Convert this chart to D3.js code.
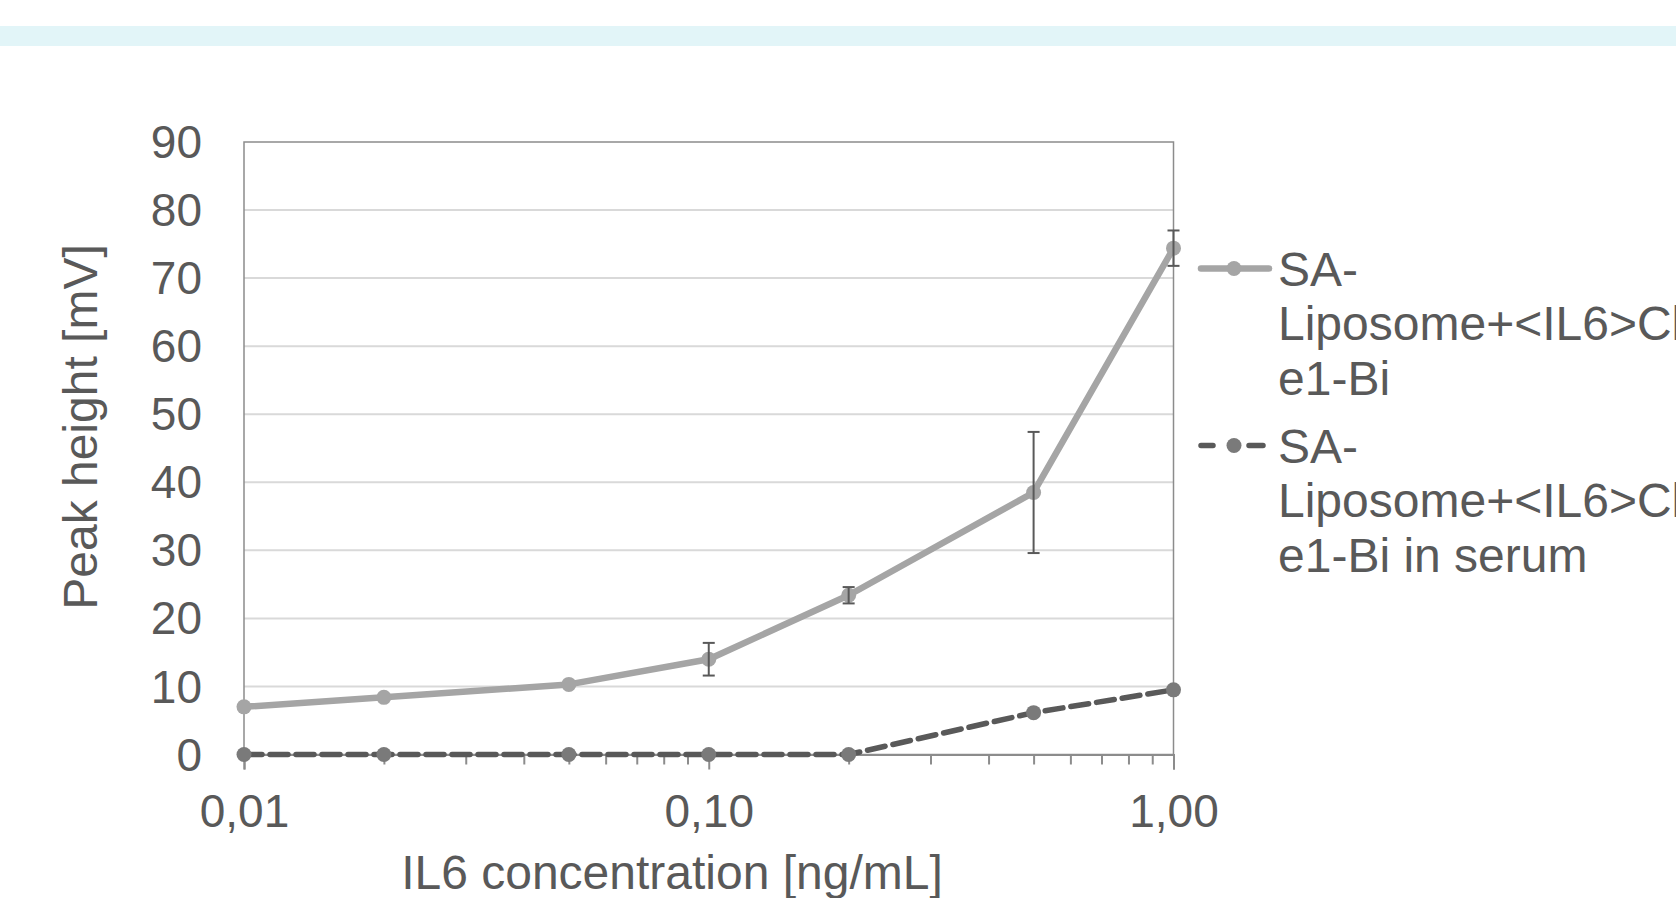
<!DOCTYPE html>
<html>
<head>
<meta charset="utf-8">
<script src="https://cdn.jsdelivr.net/npm/d3@7"></script>
<style>
  html, body { margin: 0; padding: 0; background: #fff; overflow: hidden; }
  svg { display: block; font-family: "Liberation Sans", Arial, sans-serif; }
</style>
</head>
<body>
<svg id="chart" width="1676" height="898"></svg>
<script>
// concentrations in ng/mL (log axis)
const concentrations = [0.01, 0.02, 0.05, 0.1, 0.2, 0.5, 1.0];
// peak heights [mV]
const liposome = [7.0, 8.4, 10.3, 14.0, 23.4, 38.5, 74.4];
const liposomeErr = [0, 0, 0, 2.4, 1.2, 8.9, 2.6];
const liposomeSerum = [0, 0, 0, 0, 0, 6.15, 9.5];

const yTicks = [0, 10, 20, 30, 40, 50, 60, 70, 80, 90];
const xMajorTicks = [0.01, 0.1, 1];
const xMinorTicks = [0.02, 0.03, 0.04, 0.05, 0.06, 0.07, 0.08, 0.09,
                     0.2, 0.3, 0.4, 0.5, 0.6, 0.7, 0.8, 0.9];

const legendLabels = [
  ["SA-", "Liposome+<IL6>Clon", "e1-Bi"],
  ["SA-", "Liposome+<IL6>Clon", "e1-Bi in serum"]
];

const textColor = "#595959";
const svg = d3.select("#chart");

// light band at top of the slide
svg.append("rect")
  .attr("x", 0).attr("y", 26)
  .attr("width", 1676).attr("height", 20)
  .attr("fill", "#e2f5f8");

const plot = { left: 244, right: 1173.5, top: 142, bottom: 754.5 };

const x = d3.scaleLog()
  .domain([0.01, 1])
  .range([plot.left, plot.right]);

const y = d3.scaleLinear()
  .domain([0, 90])
  .range([plot.bottom, plot.top]);

const locale = d3.formatLocale({ decimal: ",", thousands: ".", grouping: [3], currency: ["", ""] });
const fmt = locale.format(".2f");

// gridlines
svg.append("g")
  .selectAll("line")
  .data(yTicks.slice(1, -1))
  .join("line")
  .attr("x1", plot.left).attr("x2", plot.right)
  .attr("y1", d => y(d)).attr("y2", d => y(d))
  .attr("stroke", "#d9d9d9")
  .attr("stroke-width", 2);

// plot area border
svg.append("rect")
  .attr("x", plot.left).attr("y", plot.top)
  .attr("width", plot.right - plot.left)
  .attr("height", plot.bottom - plot.top)
  .attr("fill", "none")
  .attr("stroke", "#8c8c8c")
  .attr("stroke-width", 1.5);

// y tick labels
svg.append("g")
  .selectAll("text")
  .data(yTicks)
  .join("text")
  .attr("x", 202)
  .attr("y", d => y(d))
  .attr("dy", "0.35em")
  .attr("text-anchor", "end")
  .attr("font-size", 46)
  .attr("fill", textColor)
  .text(d => d);

// x axis with major + minor ticks
const xAxis = svg.append("g")
  .attr("transform", `translate(0,${plot.bottom})`)
  .call(d3.axisBottom(x)
    .tickValues(xMajorTicks.concat(xMinorTicks))
    .tickSize(15)
    .tickFormat(d => xMajorTicks.includes(d) ? fmt(d) : ""));

xAxis.select(".domain").attr("stroke", "#8c8c8c").attr("stroke-width", 2);
xAxis.selectAll(".tick line")
  .attr("stroke", "#8c8c8c")
  .attr("stroke-width", 2)
  .attr("y2", d => xMajorTicks.includes(d) ? 15 : 10);
xAxis.selectAll(".tick text")
  .attr("y", 72.5)
  .attr("dy", null)
  .attr("font-size", 46)
  .attr("font-family", "Liberation Sans, Arial, sans-serif")
  .attr("fill", textColor);

// axis titles
svg.append("text")
  .attr("x", 672).attr("y", 889)
  .attr("text-anchor", "middle")
  .attr("font-size", 48)
  .attr("fill", textColor)
  .text("IL6 concentration [ng/mL]");

svg.append("text")
  .attr("transform", "translate(97,427) rotate(-90)")
  .attr("text-anchor", "middle")
  .attr("font-size", 48)
  .attr("fill", textColor)
  .text("Peak height [mV]");

const line = d3.line()
  .x(d => x(d[0]))
  .y(d => y(d[1]));

const lightColor = "#a5a5a5";
const darkLine = "#595959";
const darkMarker = "#7a7a7a";
const dash = "18 8";

// serum series (dashed)
const serumPts = concentrations.map((c, i) => [c, liposomeSerum[i]]);
svg.append("path")
  .datum(serumPts)
  .attr("d", line)
  .attr("fill", "none")
  .attr("stroke", darkLine)
  .attr("stroke-width", 5.5)
  .attr("stroke-dasharray", dash)
  .attr("stroke-linecap", "round");

svg.append("g")
  .selectAll("circle")
  .data(serumPts)
  .join("circle")
  .attr("cx", d => x(d[0]))
  .attr("cy", d => y(d[1]))
  .attr("r", 7.5)
  .attr("fill", darkMarker);

// liposome series (solid)
const lipoPts = concentrations.map((c, i) => [c, liposome[i], liposomeErr[i]]);
svg.append("path")
  .datum(lipoPts)
  .attr("d", line)
  .attr("fill", "none")
  .attr("stroke", lightColor)
  .attr("stroke-width", 6.5)
  .attr("stroke-linejoin", "round");

svg.append("g")
  .selectAll("circle")
  .data(lipoPts)
  .join("circle")
  .attr("cx", d => x(d[0]))
  .attr("cy", d => y(d[1]))
  .attr("r", 7.5)
  .attr("fill", lightColor);

// error bars
const errG = svg.append("g")
  .attr("stroke", darkLine)
  .attr("stroke-width", 2)
  .selectAll("g")
  .data(lipoPts.filter(d => d[2] > 0))
  .join("g");

errG.append("line")
  .attr("x1", d => x(d[0])).attr("x2", d => x(d[0]))
  .attr("y1", d => y(d[1] + d[2])).attr("y2", d => y(d[1] - d[2]));
errG.append("line")
  .attr("x1", d => x(d[0]) - 6).attr("x2", d => x(d[0]) + 6)
  .attr("y1", d => y(d[1] + d[2])).attr("y2", d => y(d[1] + d[2]));
errG.append("line")
  .attr("x1", d => x(d[0]) - 6).attr("x2", d => x(d[0]) + 6)
  .attr("y1", d => y(d[1] - d[2])).attr("y2", d => y(d[1] - d[2]));

// legend
const legend = svg.append("g").attr("transform", "translate(1201,0)");
const entryY = [268.5, 445.5];

legendLabels.forEach((lines, i) => {
  const g = legend.append("g").attr("transform", `translate(0,${entryY[i]})`);
  g.append("line")
    .attr("x1", 0).attr("x2", i === 0 ? 68 : 62)
    .attr("stroke", i === 0 ? lightColor : darkLine)
    .attr("stroke-width", i === 0 ? 6.5 : 5.5)
    .attr("stroke-linecap", "round")
    .attr("stroke-dasharray", i === 0 ? null : "12 36 16 100");
  g.append("circle")
    .attr("cx", 33).attr("r", 7.5)
    .attr("fill", i === 0 ? lightColor : darkMarker);
  g.append("text")
    .attr("x", 77)
    .attr("y", 17)
    .attr("font-size", 48)
    .attr("fill", textColor)
    .selectAll("tspan")
    .data(lines)
    .join("tspan")
    .attr("x", 77)
    .attr("dy", (d, j) => j === 0 ? 0 : 54.5)
    .text(d => d);
});
</script>
</body>
</html>
